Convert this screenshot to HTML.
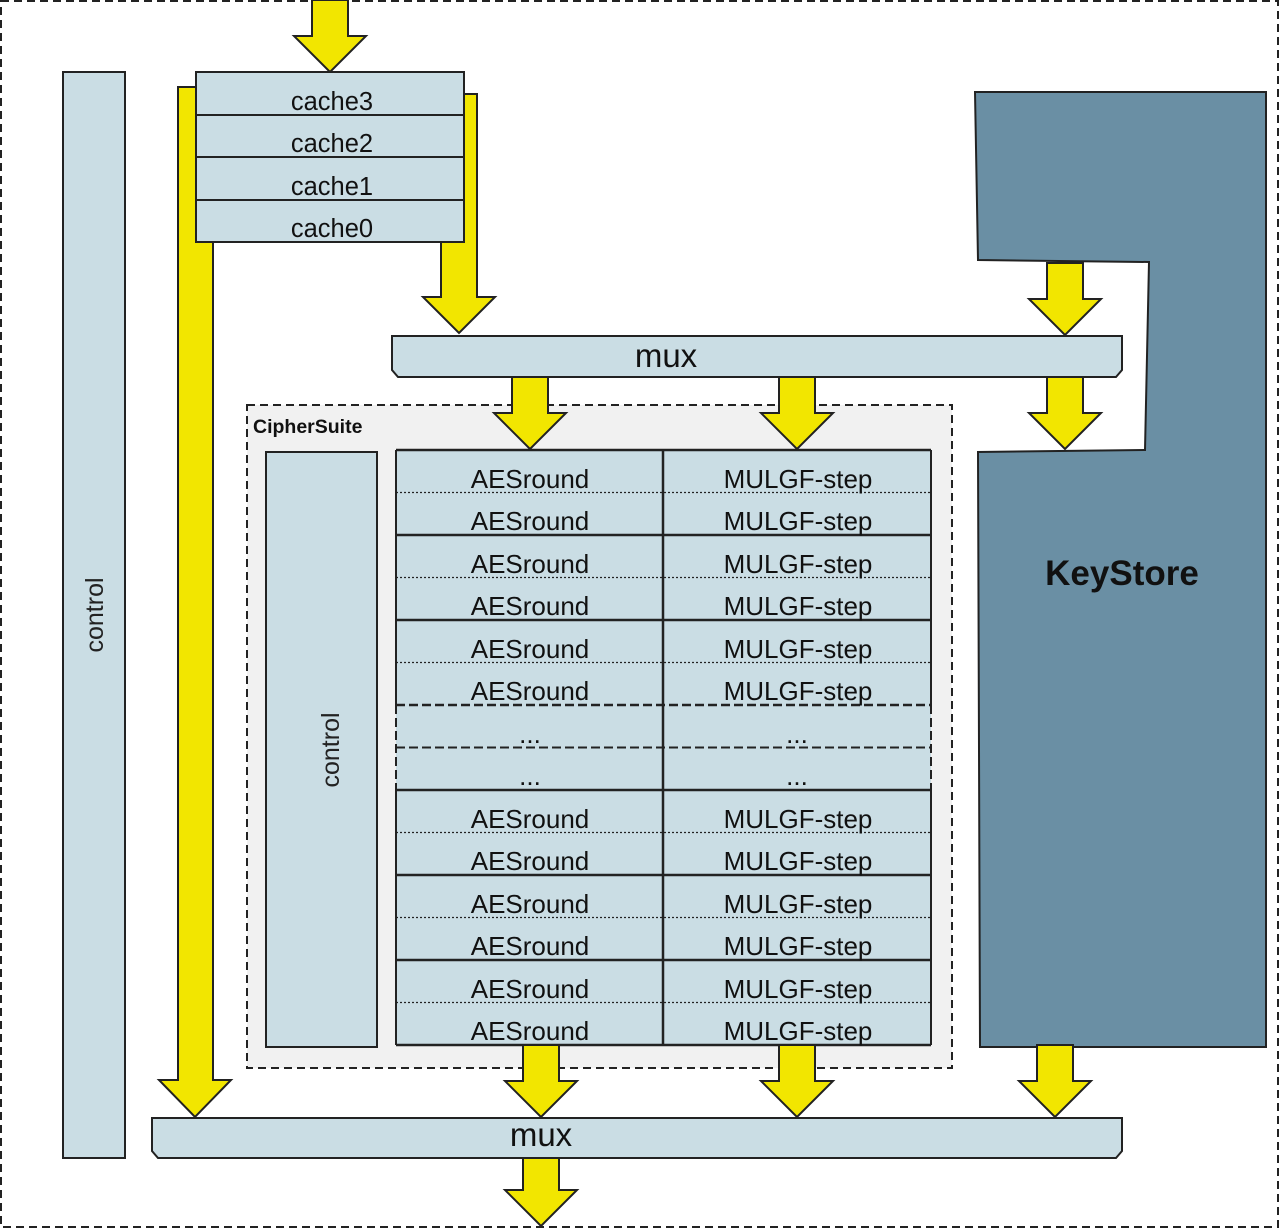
<!DOCTYPE html>
<html><head><meta charset="utf-8"><style>html,body{margin:0;padding:0;background:#fff}svg{display:block}</style></head>
<body>
<svg width="1280" height="1229" viewBox="0 0 1280 1229" xmlns="http://www.w3.org/2000/svg" font-family="Liberation Sans, sans-serif">
<rect x="1" y="1" width="1277" height="1226" fill="#fff" stroke="#222" stroke-width="2" stroke-dasharray="8,5"/>
<rect x="63" y="72" width="62" height="1086" fill="#cadde4" stroke="#222" stroke-width="2"/>
<text transform="translate(103,615) rotate(-90)" font-size="25" text-anchor="middle" fill="#222">control</text>
<polygon points="975,92 1266,92 1266,1047 980,1047 978,452 1145,450 1149,262 978,260" fill="#6a8fa4" stroke="#222" stroke-width="2"/>
<text x="1122" y="585" font-size="35" font-weight="bold" text-anchor="middle" fill="#111">KeyStore</text>
<rect x="247" y="405" width="705" height="663" fill="#f1f1f1" stroke="#222" stroke-width="2" stroke-dasharray="8,5"/>
<text x="253" y="433" font-size="19.5" font-weight="bold" fill="#111">CipherSuite</text>
<rect x="266" y="452" width="111" height="595" fill="#cadde4" stroke="#222" stroke-width="2"/>
<text transform="translate(339,750) rotate(-90)" font-size="25" text-anchor="middle" fill="#222">control</text>
<rect x="396" y="450" width="535" height="595" fill="#cadde4"/>
<g stroke="#222" fill="none">
<line x1="396" y1="450" x2="931" y2="450" stroke-width="2.5"/>
<line x1="396" y1="535" x2="931" y2="535" stroke-width="2.5"/>
<line x1="396" y1="620" x2="931" y2="620" stroke-width="2.5"/>
<line x1="396" y1="705" x2="931" y2="705" stroke-width="2.5" stroke-dasharray="9,4"/>
<line x1="396" y1="747.5" x2="931" y2="747.5" stroke-width="2" stroke-dasharray="9,4"/>
<line x1="396" y1="790" x2="931" y2="790" stroke-width="2.5"/>
<line x1="396" y1="875" x2="931" y2="875" stroke-width="2.5"/>
<line x1="396" y1="960" x2="931" y2="960" stroke-width="2.5"/>
<line x1="396" y1="1045" x2="931" y2="1045" stroke-width="2.5"/>
<g stroke-width="1.2" stroke-dasharray="2,2">
<line x1="396" y1="492.5" x2="931" y2="492.5"/>
<line x1="396" y1="577.5" x2="931" y2="577.5"/>
<line x1="396" y1="662.5" x2="931" y2="662.5"/>
<line x1="396" y1="832.5" x2="931" y2="832.5"/>
<line x1="396" y1="917.5" x2="931" y2="917.5"/>
<line x1="396" y1="1002.5" x2="931" y2="1002.5"/>
</g>
<line x1="396" y1="450" x2="396" y2="705" stroke-width="2"/>
<line x1="396" y1="790" x2="396" y2="1045" stroke-width="2"/>
<line x1="931" y1="450" x2="931" y2="705" stroke-width="2"/>
<line x1="931" y1="790" x2="931" y2="1045" stroke-width="2"/>
<line x1="663" y1="450" x2="663" y2="1045" stroke-width="2.5"/>
<line x1="396" y1="705" x2="396" y2="790" stroke-width="2" stroke-dasharray="9,4"/>
<line x1="931" y1="705" x2="931" y2="790" stroke-width="2" stroke-dasharray="9,4"/>
</g>
<g font-size="26" text-anchor="middle" fill="#111">
<text x="530" y="488">AESround</text><text x="798" y="488">MULGF-step</text>
<text x="530" y="530">AESround</text><text x="798" y="530">MULGF-step</text>
<text x="530" y="573">AESround</text><text x="798" y="573">MULGF-step</text>
<text x="530" y="615">AESround</text><text x="798" y="615">MULGF-step</text>
<text x="530" y="658">AESround</text><text x="798" y="658">MULGF-step</text>
<text x="530" y="700">AESround</text><text x="798" y="700">MULGF-step</text>
<text x="530" y="743">...</text><text x="797" y="743">...</text>
<text x="530" y="785">...</text><text x="797" y="785">...</text>
<text x="530" y="828">AESround</text><text x="798" y="828">MULGF-step</text>
<text x="530" y="870">AESround</text><text x="798" y="870">MULGF-step</text>
<text x="530" y="913">AESround</text><text x="798" y="913">MULGF-step</text>
<text x="530" y="955">AESround</text><text x="798" y="955">MULGF-step</text>
<text x="530" y="998">AESround</text><text x="798" y="998">MULGF-step</text>
<text x="530" y="1040">AESround</text><text x="798" y="1040">MULGF-step</text>
</g>
<g fill="#f2e600" stroke="#222" stroke-width="2" stroke-linejoin="miter">
<polygon points="178,87 213,87 213,1080 231,1080 195,1117 159,1080 178,1080"/>
<polygon points="441,94 477,94 477,297 495,297 459,333 423,297 441,297"/>
<polygon points="312,0 348,0 348,36 366,36 330,72 294,36 312,36"/>
<polygon points="1047,263 1083,263 1083,299 1101,299 1065,335 1029,299 1047,299"/>
<polygon points="1047,377 1083,377 1083,413 1101,413 1065,449 1029,413 1047,413"/>
<polygon points="512,377 548,377 548,413 566,413 530,449 494,413 512,413"/>
<polygon points="779,377 815,377 815,413 833,413 797,449 761,413 779,413"/>
<polygon points="523,1045 559,1045 559,1081 577,1081 541,1117 505,1081 523,1081"/>
<polygon points="779,1045 815,1045 815,1081 833,1081 797,1117 761,1081 779,1081"/>
<polygon points="1037,1045 1073,1045 1073,1081 1091,1081 1055,1117 1019,1081 1037,1081"/>
<polygon points="523,1158 559,1158 559,1190 577,1190 541,1226 505,1190 523,1190"/>
</g>
<rect x="196" y="72" width="268" height="170" fill="#cadde4" stroke="#222" stroke-width="2"/>
<g stroke="#222" stroke-width="2"><line x1="196" y1="115" x2="464" y2="115"/><line x1="196" y1="157" x2="464" y2="157"/><line x1="196" y1="200" x2="464" y2="200"/></g>
<g font-size="25.5" text-anchor="middle" fill="#111">
<text x="332" y="110">cache3</text><text x="332" y="152">cache2</text><text x="332" y="195">cache1</text><text x="332" y="237">cache0</text>
</g>
<polygon points="392,336 1122,336 1122,370 1116,377 398,377 392,370" fill="#cadde4" stroke="#222" stroke-width="2"/>
<text x="666" y="367" font-size="33" text-anchor="middle" fill="#111">mux</text>
<polygon points="152,1118 1122,1118 1122,1151 1116,1158 158,1158 152,1151" fill="#cadde4" stroke="#222" stroke-width="2"/>
<text x="541" y="1146" font-size="33" text-anchor="middle" fill="#111">mux</text>
</svg>
</body></html>
